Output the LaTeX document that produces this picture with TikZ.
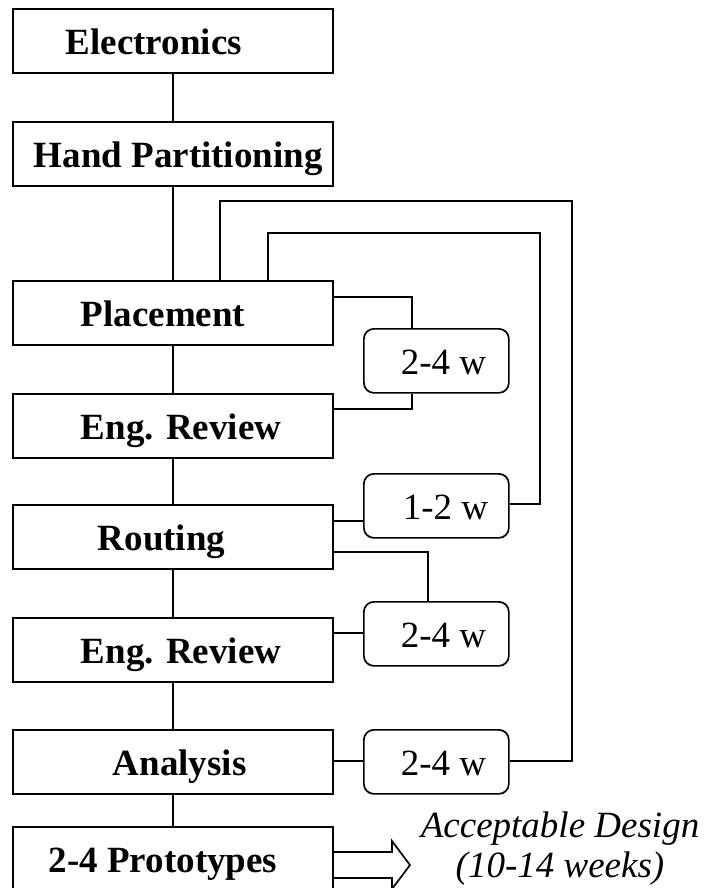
\documentclass[tikz,border=0pt]{standalone}
\usepackage{fontspec}
\setmainfont{Liberation Serif}
\begin{document}
\begin{tikzpicture}[x=1pt,y=-1pt,
  conn/.style={line width=1.7pt, line join=miter},
  mainbox/.style={draw, line width=1.7pt, anchor=north west, inner sep=0pt,
    minimum width=320pt, minimum height=64pt, text height=28pt, text depth=0pt,
    font=\fontsize{37}{40}\selectfont\bfseries},
  wbox/.style={draw, line width=1.7pt, rounded corners=10pt, anchor=north west, inner sep=0pt,
    minimum width=145pt, minimum height=64pt, text height=27pt, text depth=0pt,
    font=\fontsize{37}{40}\selectfont}]
\useasboundingbox (0,0) rectangle (705,888);
% main column
\node[mainbox] (E)   at (12,8)   {\makebox[320pt][l]{\hspace{53pt}Electronics}};
\node[mainbox] (HP)  at (12,121) {\makebox[320pt][l]{\hspace{21pt}Hand Partitioning}};
\node[mainbox] (Pl)  at (12,280) {\makebox[320pt][l]{\hspace{68pt}Placement}};
\node[mainbox] (ER1) at (12,393) {\makebox[320pt][l]{\hspace{68pt}Eng. Review}};
\node[mainbox] (Ro)  at (12,504) {\makebox[320pt][l]{\hspace{85pt}Routing}};
\node[mainbox] (ER2) at (12,617) {\makebox[320pt][l]{\hspace{68pt}Eng. Review}};
\node[mainbox] (An)  at (12,729) {\makebox[320pt][l]{\hspace{100pt}Analysis}};
\node[mainbox] (Pr)  at (12,826) {\makebox[320pt][l]{\hspace{36pt}2-4 Prototypes}};
% duration boxes
\node[wbox] (S1) at (363,328) {\makebox[145pt][l]{\hspace{37pt}2-4 w}};
\node[wbox] (S2) at (363,473) {\makebox[145pt][l]{\hspace{39pt}1-2 w}};
\node[wbox] (S3) at (363,601) {\makebox[145pt][l]{\hspace{37pt}2-4 w}};
\node[wbox] (S4) at (363,729) {\makebox[145pt][l]{\hspace{37pt}2-4 w}};
% vertical chain
\draw[conn] (E) -- (HP);
\draw[conn] (HP) -- (Pl);
\draw[conn] (Pl) -- (ER1);
\draw[conn] (ER1) -- (Ro);
\draw[conn] (Ro) -- (ER2);
\draw[conn] (ER2) -- (An);
\draw[conn] (An) -- (Pr);
% side connectors
\draw[conn] (Pl.east |- 0,297) -| (412,0 |- S1.north);
\draw[conn] (412,0 |- S1.south) |- (ER1.east |- 0,409);
\draw[conn] (Ro.east |- 0,521) -- (S2.west |- 0,521);
\draw[conn] (S2.east |- 0,504) -| (540,233) -| (268,0 |- Pl.north);
\draw[conn] (Ro.east |- 0,552) -| (428,0 |- S3.north);
\draw[conn] (ER2.east |- 0,633) -- (S3.west |- 0,633);
\draw[conn] (An.east |- 0,761) -- (S4.west |- 0,761);
\draw[conn] (S4.east |- 0,761) -| (572,201) -| (220,0 |- Pl.north);
% outlined arrow
\draw[conn] (Pr.east |- 0,852) -- (392,852) -- (392,841) -- (410,865) -- (392,889) -- (392,878) -- (Pr.east |- 0,878);
\node[align=center, inner sep=0pt, font=\fontsize{37}{40}\selectfont\itshape] (AD) at (560,849) {Acceptable Design\\(10-14 weeks)};
\end{tikzpicture}
\end{document}
